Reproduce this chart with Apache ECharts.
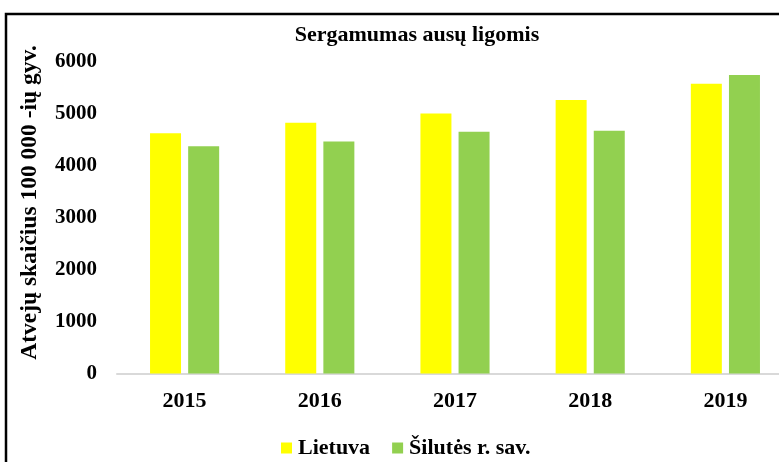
<!DOCTYPE html>
<html>
<head>
<meta charset="utf-8">
<script src="https://cdn.jsdelivr.net/npm/echarts@6/dist/echarts.min.js"></script>
<style>
  html, body { margin: 0; padding: 0; background: #fff; }
  #chart { width: 779px; height: 462px; }
</style>
</head>
<body>
<div id="chart"></div>
<script>
// Ear disease incidence, cases per 100 000 population
const years = ['2015', '2016', '2017', '2018', '2019'];
const lietuva = [4620, 4820, 5000, 5260, 5570];
const silute = [4370, 4460, 4650, 4670, 5740];
const yTicks = { min: 0, max: 6000, interval: 1000 };

const FONT = '"Liberation Serif", "Times New Roman", serif';
const textBase = { fontFamily: FONT, fontWeight: 'bold', color: '#000' };

const chart = echarts.init(document.getElementById('chart'), null, { renderer: 'canvas' });

chart.setOption({
  backgroundColor: '#fff',
  animation: false,
  title: {
    text: 'Sergamumas ausų ligomis',
    left: 417,
    top: 24,
    padding: 0,
    textAlign: 'center',
    textStyle: Object.assign({}, textBase, { fontSize: 22 })
  },
  legend: {
    left: 276,
    top: 432,
    itemWidth: 11,
    itemHeight: 11,
    itemGap: 22,
    itemStyle: { borderWidth: 0 },
    icon: 'rect',
    textStyle: Object.assign({}, textBase, { fontSize: 22, padding: [0, 0, 0, 1] }),
    data: ['Lietuva', 'Šilutės r. sav.']
  },
  grid: { left: 117, right: -14, top: 61.5, bottom: 88.5, outerBoundsMode: 'none' },
  xAxis: {
    type: 'category',
    data: years,
    axisLine: { lineStyle: { color: '#d9d9d9', width: 2 } },
    axisTick: { show: false },
    axisLabel: Object.assign({}, textBase, { fontSize: 22, margin: 17 })
  },
  yAxis: {
    type: 'value',
    min: yTicks.min,
    max: yTicks.max,
    interval: yTicks.interval,
    name: 'Atvejų skaičius 100 000 -ių gyv.',
    nameLocation: 'middle',
    nameGap: 75,
    nameTextStyle: Object.assign({}, textBase, { fontSize: 23.5, padding: [0, 0, 0, 30] }),
    axisLine: { show: false },
    axisTick: { show: false },
    splitLine: { show: false },
    axisLabel: Object.assign({}, textBase, {
      fontSize: 21,
      margin: 20,
      formatter: function (v) { return String(v); }
    })
  },
  series: [
    {
      name: 'Lietuva',
      type: 'bar',
      data: lietuva,
      barWidth: 31,
      barGap: '23%',
      itemStyle: { color: '#ffff00' }
    },
    {
      name: 'Šilutės r. sav.',
      type: 'bar',
      data: silute,
      barWidth: 31,
      itemStyle: { color: '#92d050' }
    }
  ],
  graphic: [
    {
      type: 'rect',
      silent: true,
      shape: { x: 6, y: 14, width: 820, height: 520 },
      style: { fill: 'none', stroke: '#000', lineWidth: 2.5 }
    }
  ]
});
</script>
</body>
</html>
